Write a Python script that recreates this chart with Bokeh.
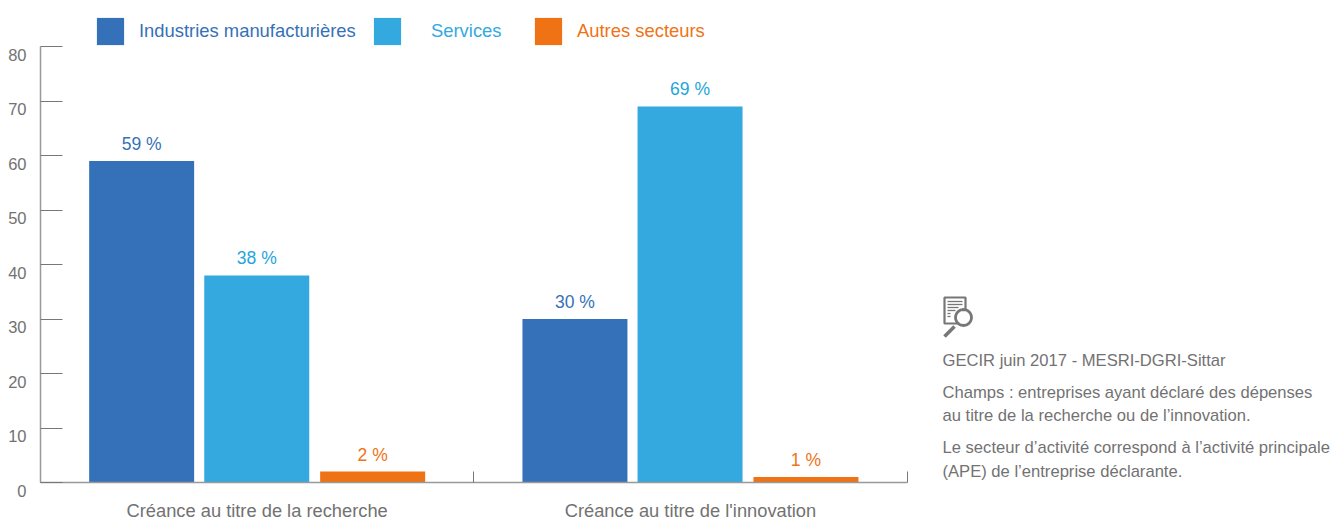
from bokeh.embed import file_html
from bokeh.resources import INLINE
from bokeh.plotting import figure
from bokeh.core.properties import value
from bokeh.models import (ColumnDataSource, FixedTicker, Legend, LegendItem, LinearAxis, Range1d)
import math

categories = ["Créance au titre de la recherche", "Créance au titre de l'innovation"]
series_names = ["Industries manufacturières", "Services", "Autres secteurs"]
manufacturing = [59, 30]
services = [38, 69]
others = [2, 1]
y_ticks = [0, 10, 20, 30, 40, 50, 60, 70, 80]
side_lines = ["GECIR juin 2017 - MESRI-DGRI-Sittar",
              "Champs : entreprises ayant déclaré des dépenses",
              "au titre de la recherche ou de l’innovation.",
              "Le secteur d’activité correspond à l’activité principale",
              "(APE) de l’entreprise déclarante."]

FONT = "Liberation Sans"
BLUE, SKY, ORANGE, GREY = "#3571b8", "#33a9e0", "#ef7215", "#727272"
LABEL_COLORS = [BLUE, "#1ea5dc", ORANGE]
COLORS = [BLUE, SKY, ORANGE]

W, H = 1339, 520
X0, X1, Y0 = 40, 906.6, 482
PX_Y = 5.45
PX_X = (X1 - X0) / 2
def dx(px): return (px - X0) / PX_X
def dy(py): return (Y0 - py) / PX_Y

p = figure(width=W, height=H, output_backend="svg", toolbar_location=None,
           x_range=Range1d(dx(0), dx(W)), y_range=Range1d(dy(H), dy(0)),
           x_axis_type=None, y_axis_type=None,
           min_border_left=0, min_border_right=0, min_border_top=0, min_border_bottom=0)
p.grid.visible = False
p.outline_line_color = None

xa = LinearAxis(ticker=FixedTicker(ticks=[0.5, 1.5], minor_ticks=[0, 1, 2]),
                major_label_overrides={0.5: categories[0], 1.5: categories[1]},
                fixed_location=0, bounds=(0, 2))
xa.major_tick_line_color = None
xa.major_tick_in = 0; xa.major_tick_out = 0
xa.minor_tick_in = 11; xa.minor_tick_out = 0
xa.minor_tick_line_color = "#777777"
xa.axis_line_color = "#999999"; xa.axis_line_width = 1.3
xa.major_label_text_font = FONT
xa.major_label_text_font_size = "18.3px"
xa.major_label_text_color = GREY
xa.major_label_standoff = 17
p.add_layout(xa, "below")

ya = LinearAxis(ticker=FixedTicker(ticks=y_ticks), fixed_location=0, bounds=(0, 80))
ya.major_tick_in = 22; ya.major_tick_out = 0
ya.minor_tick_line_color = None
ya.major_tick_line_color = "#777777"
ya.axis_line_color = "#999999"; ya.axis_line_width = 1.5
ya.major_label_text_color = None
ya.major_label_text_font_size = "1px"
ya.major_label_standoff = 0
p.add_layout(ya, "left")

BAR_W = 105 / PX_X
OFFSETS = [-115.5 / PX_X, -0.4 / PX_X, 115.5 / PX_X]
renderers = []
for vals, off, col, lab_col in zip([manufacturing, services, others], OFFSETS, COLORS, LABEL_COLORS):
    xs = [0.5 + i + off for i in range(len(vals))]
    src = ColumnDataSource(dict(x=xs, y=vals, t=[f"{v} %" for v in vals]))
    r = p.vbar(x="x", top="y", width=BAR_W, bottom=0, fill_color=col, line_color=None, source=src)
    renderers.append(r)
    p.text(x="x", y="y", text="t", source=src, y_offset=-7, text_align="center",
           text_baseline="bottom", text_color=lab_col, text_font=value(FONT), text_font_size="17.5px")

p.text(x=[0] * len(y_ticks), y=y_ticks, text=[str(v) for v in y_ticks],
       x_offset=-14, y_offset=8, text_align="right", text_baseline="middle",
       text_color=GREY, text_font=value(FONT), text_font_size="16.5px")

for name, r, col, lx, sp in zip(series_names, renderers, COLORS, [96, 373, 534], [15, 30, 15]):
    leg = Legend(items=[LegendItem(label=name, renderers=[r])], orientation="horizontal",
                 location=(lx - 3, H - 48), border_line_color=None, background_fill_alpha=0,
                 padding=0, margin=0, glyph_width=34, glyph_height=34, label_standoff=sp - 3,
                 label_text_font=FONT, label_text_font_size="18.4px", label_text_color=col,
                 label_height=34)
    p.add_layout(leg)

p.text(x=[dx(942)] * 5, y=[dy(v) for v in [360, 392, 415, 447, 471]], text=side_lines,
       text_baseline="middle", text_color=GREY, text_font=value(FONT), text_font_size="16.6px")

ICON = "#777777"
def px_line(pts, w=1.5, color=ICON):
    p.line([dx(a) for a, b in pts], [dy(b) for a, b in pts], line_color=color, line_width=w)
px_line([(958, 323), (944, 323), (944, 297), (965, 297), (965, 312)], w=2.2)
for y_, x2 in [(301, 962), (304, 962), (307, 958), (310, 955), (313, 950), (316, 950)]:
    px_line([(947, y_), (x2, y_)], w=1.3)
ring = [(963 + 8 * math.cos(a / 12 * math.pi), 317 + 8 * math.sin(a / 12 * math.pi)) for a in range(25)]
p.patch([dx(a) for a, b in ring], [dy(b) for a, b in ring], fill_color="white", line_color=ICON, line_width=2.8)
px_line([(944, 336), (954, 326)], w=3.5)

open("out.html", "w").write(file_html(p, INLINE))
